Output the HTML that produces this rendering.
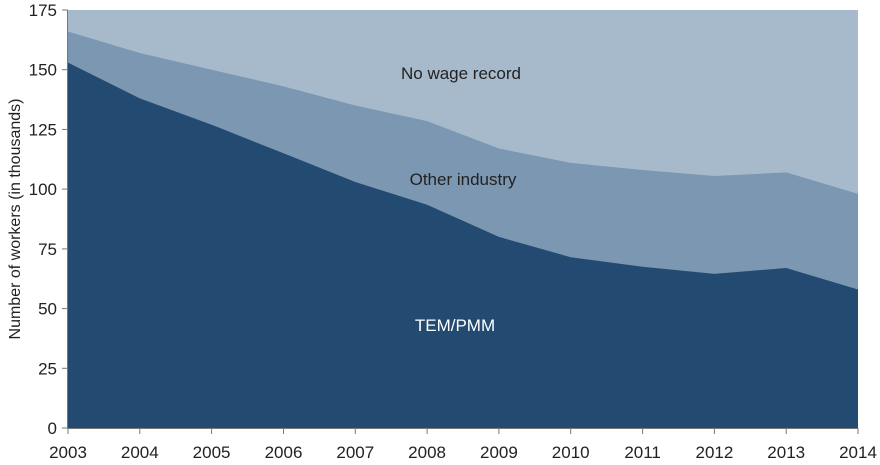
<!DOCTYPE html>
<html><head><meta charset="utf-8"><style>body{margin:0;background:#fff}svg{display:block}text{font-family:"Liberation Sans",sans-serif;fill:#222}</style></head>
<body>
<svg width="880" height="465" viewBox="0 0 880 465">
<rect x="68" y="10" width="790" height="418" fill="#a6bacc"/>
<path d="M68,428 L68,31.5 L139.8,53 L211.6,69.7 L283.5,86.4 L355.3,105.5 L427.1,121.1 L498.9,148.5 L570.7,162.9 L642.6,170 L714.4,176 L786.2,172.4 L858,193.9 L858,428Z" fill="#7b97b1"/>
<path d="M68,428 L68,62.6 L139.8,98.4 L211.6,124.7 L283.5,153.3 L355.3,182 L427.1,204.7 L498.9,236.9 L570.7,257.2 L642.6,266.8 L714.4,273.9 L786.2,268 L858,289.5 L858,428Z" fill="#234a70"/>
<g stroke="#777">
<line x1="67.5" y1="10" x2="67.5" y2="428"/>
<line x1="67.5" y1="428.5" x2="858" y2="428.5"/>
<line x1="62" x2="68" y1="428" y2="428"/><line x1="62" x2="68" y1="368.3" y2="368.3"/><line x1="62" x2="68" y1="308.6" y2="308.6"/><line x1="62" x2="68" y1="248.9" y2="248.9"/><line x1="62" x2="68" y1="189.1" y2="189.1"/><line x1="62" x2="68" y1="129.4" y2="129.4"/><line x1="62" x2="68" y1="69.7" y2="69.7"/><line x1="62" x2="68" y1="10" y2="10"/>
<line x1="68" x2="68" y1="428" y2="434"/><line x1="139.8" x2="139.8" y1="428" y2="434"/><line x1="211.6" x2="211.6" y1="428" y2="434"/><line x1="283.5" x2="283.5" y1="428" y2="434"/><line x1="355.3" x2="355.3" y1="428" y2="434"/><line x1="427.1" x2="427.1" y1="428" y2="434"/><line x1="498.9" x2="498.9" y1="428" y2="434"/><line x1="570.7" x2="570.7" y1="428" y2="434"/><line x1="642.6" x2="642.6" y1="428" y2="434"/><line x1="714.4" x2="714.4" y1="428" y2="434"/><line x1="786.2" x2="786.2" y1="428" y2="434"/><line x1="858" x2="858" y1="428" y2="434"/>
</g>
<g font-size="17" text-anchor="end">
<text x="57" y="434">0</text><text x="57" y="374.3">25</text><text x="57" y="314.6">50</text><text x="57" y="254.9">75</text><text x="57" y="195.1">100</text><text x="57" y="135.4">125</text><text x="57" y="75.7">150</text><text x="57" y="16">175</text>
</g>
<g font-size="17" text-anchor="middle">
<text x="68" y="458">2003</text><text x="139.8" y="458">2004</text><text x="211.6" y="458">2005</text><text x="283.5" y="458">2006</text><text x="355.3" y="458">2007</text><text x="427.1" y="458">2008</text><text x="498.9" y="458">2009</text><text x="570.7" y="458">2010</text><text x="642.6" y="458">2011</text><text x="714.4" y="458">2012</text><text x="786.2" y="458">2013</text><text x="858" y="458">2014</text>
<text x="461" y="79">No wage record</text>
<text x="463" y="185">Other industry</text>
<text x="455" y="331" style="fill:#fff">TEM/PMM</text>
</g>
<text transform="translate(20,219) rotate(-90)" text-anchor="middle" font-size="16">Number of workers (in thousands)</text>
</svg>
</body></html>
